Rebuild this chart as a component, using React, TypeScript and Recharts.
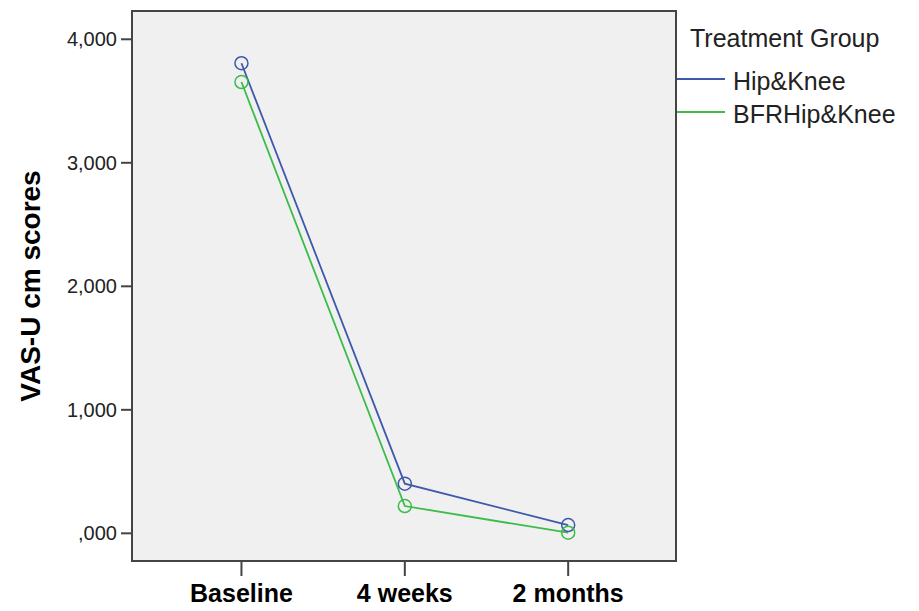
import React from "react";
import {
  CartesianGrid,
  Label,
  Legend,
  Line,
  LineChart,
  ReferenceArea,
  XAxis,
  YAxis,
} from "recharts";

// time points on the x axis
const timePoints = ["Baseline", "4 weeks", "2 months"];
// group means, VAS-U cm
const hipKnee = [3806, 402, 67];
const bfrHipKnee = [3654, 221, 5];
const groupNames = ["Hip&Knee", "BFRHip&Knee"];
const yTicks = [0, 1000, 2000, 3000, 4000];
const yTickLabels = [",000", "1,000", "2,000", "3,000", "4,000"];

const X_DOMAIN: [number, number] = [-0.67, 2.66];
const Y_DOMAIN: [number, number] = [-224, 4229];

const BLUE = "#3e58ac";
const GREEN = "#3cbc48";
const FRAME = "#444";
const FONT = "'Liberation Sans', Arial, sans-serif";

const data = timePoints.map((_, i) => ({
  t: i,
  hip: hipKnee[i],
  bfr: bfrHipKnee[i],
}));

function XTick({ x, y, payload }: any) {
  return (
    <text
      x={x}
      y={y + 24}
      textAnchor="middle"
      fontFamily={FONT}
      fontWeight="bold"
      fontSize={25}
      fill="#000"
    >
      {timePoints[payload.value]}
    </text>
  );
}

function YTick({ x, y, payload }: any) {
  const idx = yTicks.indexOf(payload.value);
  return (
    <text
      x={x - 2}
      y={y}
      dy={7}
      textAnchor="end"
      fontFamily={FONT}
      fontSize={20}
      fill="#222"
    >
      {yTickLabels[idx]}
    </text>
  );
}

function LegendBox({ payload }: any) {
  const items = [...(payload ?? [])].sort(
    (a: any, b: any) => groupNames.indexOf(a.value) - groupNames.indexOf(b.value)
  );
  return (
    <div style={{ position: "relative", fontFamily: FONT, fontSize: 25, lineHeight: "28px", color: "#222" }}>
      <div style={{ position: "absolute", left: 13, top: 24, whiteSpace: "nowrap" }}>Treatment Group</div>
      {items.map((it: any, i: number) => (
        <div key={it.value} style={{ position: "absolute", left: 0, top: 67 + i * 33, whiteSpace: "nowrap", display: "flex", alignItems: "center" }}>
          <span style={{ display: "inline-block", width: 48, height: 2, background: it.color, marginRight: 8, marginTop: -4 }} />
          <span>{it.value}</span>
        </div>
      ))}
    </div>
  );
}

export default function App() {
  return (
    <div style={{ position: "absolute", left: 0, top: 0, width: 919, height: 611, background: "#fff" }}>
      <LineChart
        width={919}
        height={611}
        data={data}
        margin={{ top: 11, right: 243, bottom: 0, left: 20 }}
      >
        <CartesianGrid fill="#f0f0f0" horizontal={false} vertical={false} />
        <ReferenceArea
          x1={X_DOMAIN[0]}
          x2={X_DOMAIN[1]}
          y1={Y_DOMAIN[0]}
          y2={Y_DOMAIN[1]}
          fill="none"
          fillOpacity={0}
          stroke={FRAME}
          strokeWidth={2}
          ifOverflow="visible"
        />
        <XAxis
          dataKey="t"
          type="number"
          domain={X_DOMAIN}
          ticks={[0, 1, 2]}
          allowDataOverflow
          height={50}
          axisLine={false}
          tickSize={15}
          tickLine={{ stroke: FRAME, strokeWidth: 2 }}
          tick={<XTick />}
          interval={0}
        />
        <YAxis
          type="number"
          domain={Y_DOMAIN}
          ticks={yTicks}
          allowDataOverflow
          width={112}
          axisLine={false}
          tickSize={11}
          tickLine={{ stroke: FRAME, strokeWidth: 2 }}
          tick={<YTick />}
          interval={0}
        >
          <Label
            content={() => (
              <text
                x={30}
                y={286}
                transform="rotate(-90 30 286)"
                textAnchor="middle"
                dominantBaseline="central"
                fontFamily={FONT}
                fontWeight="bold"
                fontSize={28}
                fill="#000"
              >
                VAS-U cm scores
              </text>
            )}
          />
        </YAxis>
        <Legend
          layout="vertical"
          align="center"
          verticalAlign="middle"
          wrapperStyle={{ left: 677, top: 0, width: 240, height: 130 }}
          content={<LegendBox />}
        />
        <Line
          dataKey="hip"
          name={groupNames[0]}
          stroke={BLUE}
          strokeWidth={1.8}
          dot={{ r: 6.5, fill: "none", stroke: BLUE, strokeWidth: 1.5 }}
          activeDot={false}
          isAnimationActive={false}
        />
        <Line
          dataKey="bfr"
          name={groupNames[1]}
          stroke={GREEN}
          strokeWidth={1.8}
          dot={{ r: 6.5, fill: "none", stroke: GREEN, strokeWidth: 1.5 }}
          activeDot={false}
          isAnimationActive={false}
        />
      </LineChart>
    </div>
  );
}
